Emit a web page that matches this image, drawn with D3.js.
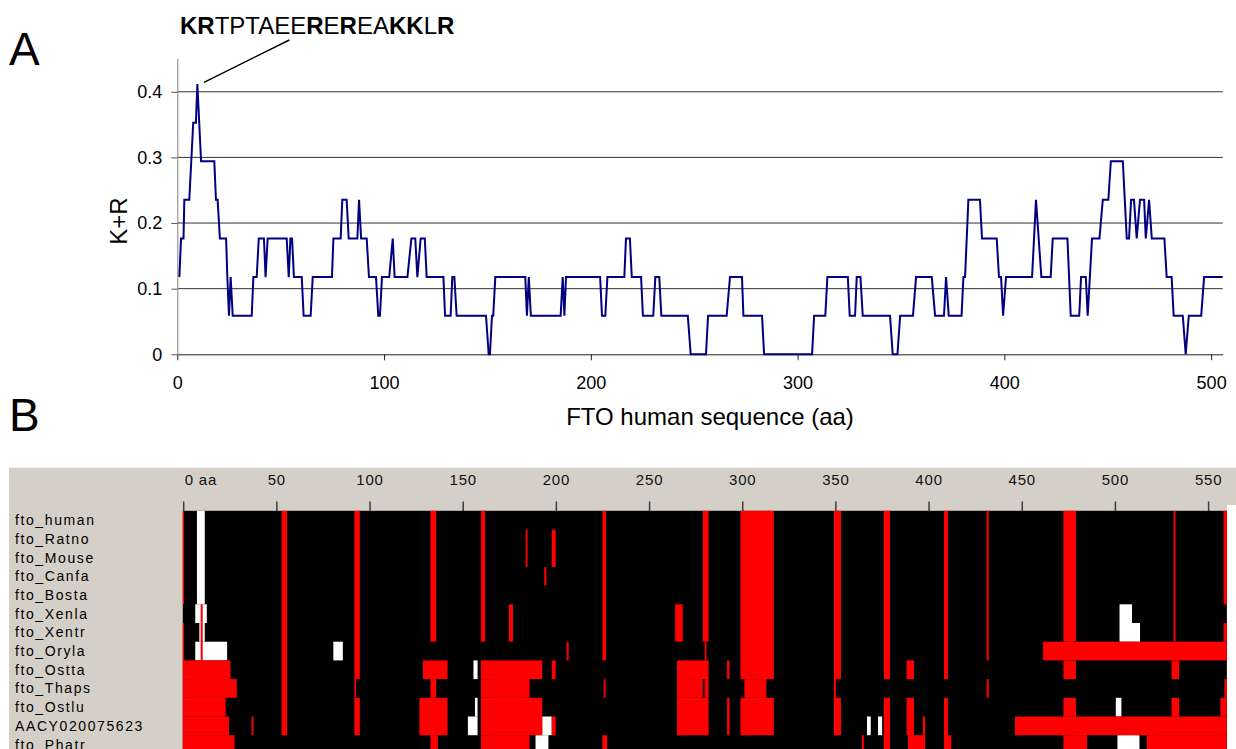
<!DOCTYPE html>
<html><head><meta charset="utf-8">
<script src="https://cdn.jsdelivr.net/npm/d3@7"></script>
<style>body{margin:0;background:#fff}svg{display:block}</style>
</head><body>
<svg id="c" width="1236" height="749"></svg>
<script>
// ---------- Panel A data ----------
const windowSize = 17;
const krPos = [1,1.8,3,3.4,5.8,7.7,9.0,9.7,11.5,17.9,18.7,19.5,20.6,23.6,24.2,25,25.8,26.8,36,36.8,38.4,39.4,41.9,42.7,43.7,52.9,53.9,54.7,55.5,56.4,60.2,61.1,64.5,65.5,74.8,75.5,79,79.8,81.9,82.9,87.1,87.9,88.9,91.6,92.7,96.1,97.2,98,99,102.5,104.2,105.1,111.3,113.2,115.1,116.1,117.7,119.7,120.6,128.7,129.5,132.2,133,134,135.1,149.3,150.6,151.2,152.2,152.8,153.8,168.3,169.1,170,171,185.4,186.4,187.2,188,204.5,205.4,207,208,216.2,217,218.9,219.8,224.3,225.2,230.2,231.2,233.1,234.1,246.9,248.3,255.7,256.7,265.7,267.3,273.1,273.8,282.8,283.8,307,308,313.4,314.4,324.3,325.2,327.8,328.6,330.4,331.5,344.7,346,348.3,349.6,355.8,357.3,364.9,366.5,370.8,371.8,373.1,379.3,380.2,381,382.6,388.2,389.2,396.3,397.4,398.4,399.4,400.8,413.4,415.3,417.9,422.4,423.4,430.5,432.1,436.2,437.1,439.4,440.3,442.4,446,447.6,450.3,451.5,457.3,459.2,460.3,461.3,462.7,464,465.6,467.6,468.4,470,471.3,477.4,478.5,480.9,481.9,486.3,487.7,489.2,495.2,496.6,505.6];
const krCount = [2,3,3,4,4,6,6,7,5,5,4,4,3,3,2,1,2,1,1,2,2,3,3,2,3,3,2,3,3,2,2,1,1,2,2,3,3,4,4,3,3,4,3,3,2,2,1,1,2,2,3,2,2,3,3,2,3,3,2,2,1,1,2,2,1,1,0,0,1,1,2,2,1,2,1,1,2,1,2,2,1,1,2,2,3,3,2,2,1,1,2,2,1,1,0,0,1,1,2,2,1,1,0,0,1,1,2,2,1,1,2,2,1,1,0,0,1,1,2,2,1,1,2,1,1,2,2,4,4,3,3,2,2,1,2,2,4,2,2,3,3,1,1,2,2,1,3,3,4,4,5,5,3,3,4,4,3,4,4,3,4,3,3,2,2,1,1,0,1,1,2,2];
const xTicksA = [0,100,200,300,400,500];
const yTicksA = [0,0.1,0.2,0.3,0.4];
const peptide = [["KR",true],["TPTAEE",false],["R",true],["E",false],["R",true],["EA",false],["KK",true],["L",false],["R",true]];

// ---------- Panel B data ----------
const species = ["fto_human","fto_Ratno","fto_Mouse","fto_Canfa","fto_Bosta","fto_Xenla","fto_Xentr","fto_Oryla","fto_Ostta","fto_Thaps","fto_Ostlu","AACY020075623","fto_Phatr"];
const bTicks = [0,50,100,150,200,250,300,350,400,450,500,550];
const alignExtent = [-0.5, 559.8];
// [firstRow, lastRow, startAA, endAA]
const redSegs = [
 [0,4,-0.5,0.2],[6,7,-0.5,0.2],[5,7,9.1,10.2],
 [8,8,-0.5,25.1],[9,9,-0.5,28.5],[10,10,-0.5,22.5],[11,11,-0.5,24.3],[12,12,-0.5,27.3],
 [11,11,36.4,37.4],[0,11,52.5,55.5],
 [0,8,91.6,94.5],[9,9,91.6,92.5],[10,11,91.6,94.5],
 [0,6,132.4,135.5],[8,8,128.4,141.6],[9,9,132.4,135.5],[10,11,126.5,141.6],[12,12,132.4,136.4],
 [0,6,159.5,161.7],[5,6,174.5,176.7],[1,2,183.5,184.5],[1,2,197.5,199.6],[3,3,193.5,194.6],[7,7,205.5,206.6],
 [8,8,159.5,192.4],[9,9,159.5,185.6],[10,11,159.5,192.4],[12,12,159.5,185.6],
 [8,8,197.5,199.6],[11,11,197.5,199.6],
 [0,7,224.7,226.6],[9,9,225.4,226.4],[12,12,224.7,227.2],
 [5,6,263.7,267.8],[0,6,278.6,281.7],[7,7,279.6,280.5],
 [8,8,264.7,281.7],[9,9,264.7,278.6],[9,9,279.6,281.7],[10,11,264.7,281.7],
 [8,8,291.6,292.9],[10,11,291.6,292.9],
 [0,8,298.8,316.7],[9,9,300.9,312.7],[10,11,298.8,316.7],
 [0,8,348.9,352.7],[9,9,348.9,350],[10,11,348.9,352.7],
 [12,12,363.9,365],
 [0,8,375.7,379],[10,12,375.7,379],
 [8,8,387.9,391.9],[10,11,387.9,391.9],[11,11,396.7,397.9],[12,12,388.7,397.9],
 [0,8,408,410.1],[10,11,408,410.1],[12,12,408,411.9],
 [0,7,430.9,432],[9,9,430.9,432],
 [0,6,472.1,478.8],[8,8,472.1,478.8],[10,10,472.1,478.8],[12,12,472.1,484.8],
 [7,7,461.2,559.8],[11,11,446.1,559.8],[12,12,516.8,559.8],
 [0,6,531.2,532.2],[8,8,530.1,534.2],[10,10,530.1,534.2],
 [0,4,558,559.8],[6,6,558,559.8],[9,9,558.5,559.8],[10,10,556.3,559.8]
];
const whiteSegs = [
 [0,4,7.1,11.3],[5,5,6.2,12.4],[6,6,8.4,11.3],[7,7,6.2,23.3],[7,7,80.3,85.4],
 [8,8,155.5,157.7],[10,10,156.3,157.7],[11,11,152.5,157.7],[11,11,192.4,197.5],[12,12,188.8,195.7],
 [11,11,366.7,368.7],[11,11,372.6,374.8],
 [5,5,502.2,508.9],[6,6,502.2,513.2],[10,10,500.2,503.2],[12,12,501.1,512.9]
];

const svg = d3.select("#c");
const FONT = "'Liberation Sans', Arial, sans-serif";

// ---------- Panel A ----------
const x = d3.scaleLinear().domain([0, 505.6]).range([177.3, 1222.7]);
const y = d3.scaleLinear().domain([0, 0.451]).range([354.3, 58.3]);

svg.append("text").attr("x", 9).attr("y", 65).attr("font-family", FONT).attr("font-size", 46).text("A");

const gA = svg.append("g");
gA.selectAll("line.grid").data(yTicksA.filter(d => d > 0)).join("line")
  .attr("class","grid").attr("x1", x(0)).attr("x2", x(505.6))
  .attr("y1", d => y(d)).attr("y2", d => y(d)).attr("stroke", "#333").attr("stroke-width", 1);

const xAxis = gA.append("g").attr("transform", `translate(0,${y(0)})`)
  .call(d3.axisBottom(x).tickValues(xTicksA).tickFormat(d3.format("d")).tickSize(6).tickSizeOuter(0).tickPadding(16));
xAxis.select(".domain").attr("stroke", "#222");
xAxis.selectAll(".tick line").attr("stroke", "#222");
xAxis.selectAll("text").attr("font-family", FONT).attr("font-size", 18).attr("fill", "#000");

const yAxis = gA.append("g").attr("transform", `translate(${x(0)},0)`)
  .call(d3.axisLeft(y).tickValues(yTicksA).tickFormat(d => d === 0 ? "0" : d3.format(".1f")(d)).tickSize(6).tickSizeOuter(0).tickPadding(9));
yAxis.select(".domain").attr("stroke", "#808080");
yAxis.selectAll(".tick line").attr("stroke", "#555");
yAxis.selectAll("text").attr("font-family", FONT).attr("font-size", 18).attr("fill", "#000");

const pts = krPos.map((p, i) => [p, krCount[i] / windowSize]);
gA.append("path").datum(pts)
  .attr("d", d3.line().x(d => x(d[0])).y(d => y(d[1])))
  .attr("fill", "none").attr("stroke", "#000080").attr("stroke-width", 2).attr("stroke-linejoin", "miter");

svg.append("text").attr("x", (x(0) + x(505.6)) / 2 + 10).attr("y", 425).attr("text-anchor", "middle")
  .attr("font-family", FONT).attr("font-size", 24).text("FTO human sequence (aa)");
svg.append("text").attr("transform", `translate(127,${y(0.2) - 2}) rotate(-90)`).attr("text-anchor", "middle")
  .attr("font-family", FONT).attr("font-size", 24).text("K+R");

// peptide annotation
const ann = svg.append("text").attr("x", 180).attr("y", 33.5).attr("font-family", FONT).attr("font-size", 24);
ann.selectAll("tspan").data(peptide).join("tspan").attr("font-weight", d => d[1] ? "bold" : "normal").text(d => d[0]);
svg.append("line").attr("x1", 204).attr("y1", 82.3).attr("x2", 289.3).attr("y2", 40).attr("stroke", "#000").attr("stroke-width", 1.5);

// ---------- Panel B ----------
svg.append("text").attr("x", 9).attr("y", 431).attr("font-family", FONT).attr("font-size", 46).text("B");

const xB = d3.scaleLinear().domain([0, 550]).range([183.7, 1208.6]);
const rowBand = d3.scaleBand().domain(d3.range(species.length)).range([510.8, 510.8 + 18.7 * species.length]);

const gB = svg.append("g");
gB.append("rect").attr("x", 9).attr("y", 467.7).attr("width", 1227).attr("height", 37.3).attr("fill", "#d4d0c8");
gB.append("rect").attr("x", 9).attr("y", 505).attr("width", xB(alignExtent[1]) - 9).attr("height", 244).attr("fill", "#d4d0c8");

// header ticks
gB.selectAll("line.bt").data(bTicks).join("line").attr("class","bt")
  .attr("x1", d => xB(d)).attr("x2", d => xB(d)).attr("y1", 501.5).attr("y2", 511)
  .attr("stroke", "#3c3c3c").attr("stroke-width", 1.5);
gB.selectAll("text.bt").data(bTicks).join("text").attr("class","bt")
  .attr("x", d => d === 0 ? xB(d) + 1 : xB(d)).attr("y", 484.5)
  .attr("text-anchor", d => d === 0 ? "start" : "middle")
  .attr("font-family", FONT).attr("font-size", 15).attr("letter-spacing", 0.8).attr("fill", "#111")
  .text(d => d === 0 ? "0 aa" : d);

// alignment background
gB.append("rect").attr("x", xB(alignExtent[0])).attr("y", rowBand(0))
  .attr("width", xB(alignExtent[1]) - xB(alignExtent[0])).attr("height", rowBand.step() * species.length)
  .attr("fill", "#000");
function segRect(sel, data, color) {
  sel.selectAll(null).data(data).join("rect")
    .attr("x", d => xB(d[2])).attr("width", d => xB(d[3]) - xB(d[2]))
    .attr("y", d => rowBand(d[0])).attr("height", d => rowBand(d[1]) + rowBand.bandwidth() - rowBand(d[0]))
    .attr("fill", color);
}
segRect(gB.append("g"), whiteSegs, "#ffffff");
segRect(gB.append("g"), redSegs, "#ff0000");

// row labels
gB.selectAll("text.sp").data(species).join("text").attr("class","sp")
  .attr("x", 15).attr("y", (d, i) => rowBand(i) + rowBand.bandwidth() / 2 + 5)
  .attr("font-family", FONT).attr("font-size", 14).attr("letter-spacing", 1.6).attr("fill", "#000")
  .text(d => d);
</script>
</body></html>
